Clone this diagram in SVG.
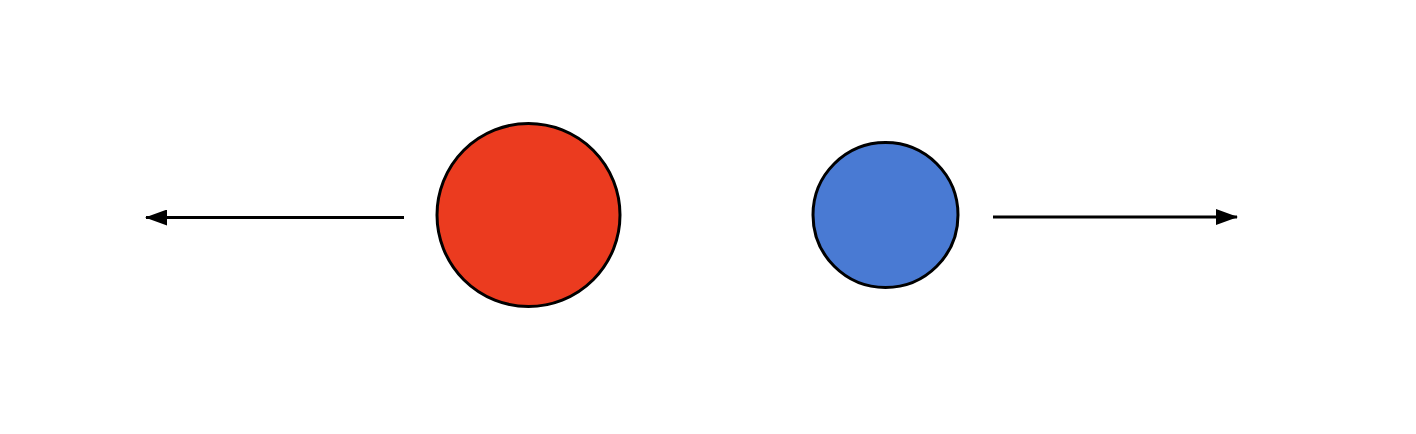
<svg xmlns="http://www.w3.org/2000/svg" width="1416" height="434" viewBox="0 0 1416 434">
<style>
.node{stroke:#000;stroke-width:3}
.conn{stroke:#000;stroke-width:2.8;fill:none}
</style>
<defs>
<marker id="ah" markerUnits="userSpaceOnUse" markerWidth="22" markerHeight="16" refX="21" refY="8" orient="auto" viewBox="0 0 22 16">
<path d="M0,0 L22,8 L0,16 Z" fill="#000"/>
</marker>
</defs>
<rect width="1416" height="434" fill="#fff"/>
<g id="red"><circle class="node" cx="528.5" cy="215" r="91.5" fill="#EB3B1F"/></g>
<g id="blue"><circle class="node" cx="885.5" cy="215" r="72.5" fill="#497AD3"/></g>
<g id="connectors">
<line class="conn" x1="404" y1="217.5" x2="146" y2="217.5" marker-end="url(#ah)"/>
<line class="conn" x1="993" y1="217" x2="1237" y2="217" marker-end="url(#ah)"/>
</g>
</svg>
